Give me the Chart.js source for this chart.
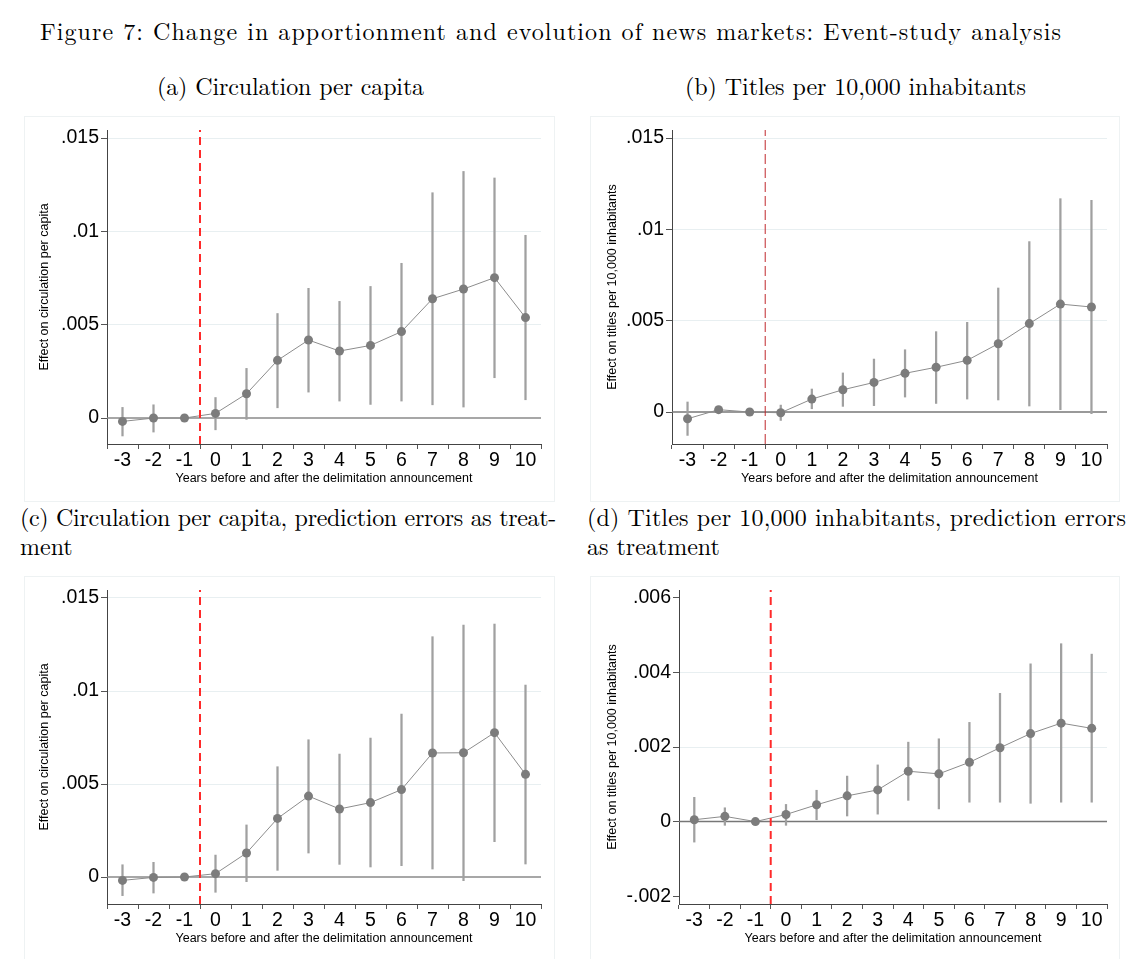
<!DOCTYPE html>
<html>
<head>
<meta charset="utf-8">
<script src="https://cdn.jsdelivr.net/npm/chart.js@4.4.1/dist/chart.umd.min.js"></script>
<style>
  body { margin: 0; background: #fff; width: 1144px; height: 959px; position: relative; overflow: hidden; }
  .cap { position: absolute; font-family: "Latin Modern Roman", "CMU Serif", "Liberation Serif", serif;
         font-size: 24px; line-height: 30px; color: #000; white-space: nowrap; }
  .frame { position: absolute; box-sizing: border-box; border: 1px solid #eef2f3; }
  canvas { position: absolute; }
</style>
</head>
<body>
<div class="cap" id="title" data-w="1022" style="left:40px; top:15px;">Figure 7: Change in apportionment and evolution of news markets: Event-study analysis</div>
<div class="cap" data-w="267" style="left:157px; top:70px;">(a) Circulation per capita</div>
<div class="cap" data-w="341" style="left:685px; top:70px;">(b) Titles per 10,000 inhabitants</div>
<div class="cap" data-j="536" style="left:20px; top:501px;">(c) Circulation per capita, prediction errors as treat-</div>
<div class="cap" style="left:20px; top:530px;">ment</div>
<div class="cap" data-j="539" style="left:587px; top:501px;">(d) Titles per 10,000 inhabitants, prediction errors</div>
<div class="cap" style="left:587px; top:530px;">as treatment</div>

<div class="frame" style="left:24px; top:116px; width:531px; height:386px;"></div>
<div class="frame" style="left:590px; top:116px; width:530px; height:386px;"></div>
<div class="frame" style="left:24px; top:576px; width:531px; height:390px;"></div>
<div class="frame" style="left:590px; top:576px; width:530px; height:390px;"></div>

<canvas id="pa" width="531" height="386" style="left:24px; top:116px;"></canvas>
<canvas id="pb" width="530" height="386" style="left:590px; top:116px;"></canvas>
<canvas id="pc" width="531" height="383" style="left:24px; top:576px;"></canvas>
<canvas id="pd" width="530" height="383" style="left:590px; top:576px;"></canvas>

<script>
const years = [-3, -2, -1, 0, 1, 2, 3, 4, 5, 6, 7, 8, 9, 10];
const announce = -0.5;
const xMin = -3.5, xMax = 10.5;
const xTitle = "Years before and after the delimitation announcement";

// (a) circulation per capita
const estA = [-0.00018, 0, 0, 0.00025, 0.0013, 0.00309, 0.00418, 0.00359, 0.00389, 0.00463, 0.00639, 0.00691, 0.00752, 0.00538];
const loA = [-0.00096, -0.00075, null, -0.00063, -0.00007, 0.00055, 0.00139, 0.00091, 0.00073, 0.00091, 0.00071, 0.00059, 0.00216, 0.00098];
const hiA = [0.00057, 0.00071, null, 0.0011, 0.00266, 0.0056, 0.00695, 0.00625, 0.00705, 0.00829, 0.01207, 0.01321, 0.01286, 0.00979];
const ticksA = [0, 0.005, 0.01, 0.015];
const labelsA = ["0", ".005", ".01", ".015"];

// (b) titles per 10,000 inhabitants
const estB = [-0.00037, 0.00013, 0, -0.00004, 0.00071, 0.00122, 0.00162, 0.00212, 0.00245, 0.00283, 0.00374, 0.00484, 0.00591, 0.00575];
const loB = [-0.00128, 0.00003, null, -0.00046, 0.00018, 0.00031, 0.00035, 0.00082, 0.00047, 0.00071, 0.00066, 0.00033, 0.00013, -0.00009];
const hiB = [0.00055, 0.00025, null, 0.00038, 0.00126, 0.00214, 0.0029, 0.00341, 0.0044, 0.00491, 0.00679, 0.00933, 0.01168, 0.01159];
const ticksB = [0, 0.005, 0.01, 0.015];
const labelsB = ["0", ".005", ".01", ".015"];

// (c) circulation per capita, prediction errors as treatment
const estC = [-0.00018, -0.00002, 0, 0.00018, 0.00129, 0.00315, 0.00435, 0.00366, 0.004, 0.0047, 0.00667, 0.00668, 0.00776, 0.00552];
const loC = [-0.001, -0.00086, null, -0.00082, -0.00025, 0.00036, 0.00129, 0.00068, 0.00054, 0.00061, 0.00043, -0.0002, 0.0019, 0.0007];
const hiC = [0.00066, 0.00079, null, 0.00118, 0.0028, 0.00593, 0.00738, 0.00661, 0.00747, 0.00876, 0.01292, 0.01355, 0.0136, 0.01032];
const ticksC = [0, 0.005, 0.01, 0.015];
const labelsC = ["0", ".005", ".01", ".015"];

// (d) titles per 10,000 inhabitants, prediction errors as treatment
const estD = [0.00005, 0.00014, 0, 0.00019, 0.00045, 0.00069, 0.00085, 0.00135, 0.00128, 0.00159, 0.00198, 0.00236, 0.00264, 0.0025];
const loD = [-0.00055, -0.0001, null, -0.0001, 0.00005, 0.00015, 0.0002, 0.00057, 0.00034, 0.00052, 0.00052, 0.00049, 0.00052, 0.00052];
const hiD = [0.00065, 0.00037, null, 0.00046, 0.00084, 0.00122, 0.00152, 0.00213, 0.00222, 0.00266, 0.00344, 0.00423, 0.00477, 0.00449];
const ticksD = [-0.002, 0, 0.002, 0.004, 0.006];
const labelsD = ["-.002", "0", ".002", ".004", ".006"];

const sans = "'Liberation Sans', Arial, sans-serif";

function eventPlot(id, p) {
  const ci = years
    .map((x, i) => ({ x, y: p.lo[i] === null ? null : [p.lo[i], p.hi[i]] }))
    .filter(d => d.y !== null);
  const pts = years.map((x, i) => ({ x, y: p.est[i] }));

  new Chart(document.getElementById(id), {
    type: "line",
    data: {
      datasets: [
        { data: [{ x: announce, y: p.yMin }, { x: announce, y: p.yMax }],
          borderColor: p.redColor, borderWidth: p.redWidth, borderDash: p.redDash,
          pointRadius: 0, order: 0 },
        { data: pts, borderColor: "#8c8c8c", borderWidth: 1,
          pointRadius: 4.5, pointBackgroundColor: "#7c7c7c", pointBorderWidth: 0, order: 1 },
        { type: "bar", data: ci, backgroundColor: "#a0a0a0", barThickness: 1.6, order: 2 },
        { data: [{ x: xMin, y: 0 }, { x: xMax, y: 0 }],
          borderColor: p.zeroColor, borderWidth: 1.5, pointRadius: 0, order: 3 }
      ]
    },
    options: {
      responsive: false,
      animation: false,
      events: [],
      layout: { padding: { left: 0, right: p.padR, top: 14, bottom: p.padB } },
      plugins: { legend: { display: false }, tooltip: { enabled: false } },
      scales: {
        x: {
          type: "linear", min: xMin, max: xMax, offset: false,
          afterBuildTicks: s => { s.ticks = years.map(v => ({ value: v })); },
          afterFit: s => { s.height = 50; },
          grid: { drawOnChartArea: false, tickLength: 5, tickColor: "#555" },
          border: { color: "#444", width: 1 },
          ticks: { font: { family: sans, size: 19.5 }, color: "#000", padding: 0, maxRotation: 0, autoSkip: false },
          title: { display: true, text: xTitle, color: "#000",
                   font: { family: sans, size: 12.5 }, padding: { top: 0, bottom: 7.5 } }
        },
        y: {
          type: "linear", min: p.yMin, max: p.yMax,
          afterBuildTicks: s => { s.ticks = p.ticks.map(v => ({ value: v })); },
          afterFit: s => { s.width = p.yW; },
          grid: {
            color: c => (c.tick && p.grid.includes(c.tick.value)) ? "#e8eff1" : "rgba(0,0,0,0)",
            tickLength: 6, tickColor: "#555"
          },
          border: { color: "#444", width: 1 },
          ticks: { font: { family: sans, size: 19.5 }, color: "#000", padding: 2,
                   callback: (v, i) => p.labels[i] },
          title: { display: true, text: p.yTitle, color: "#000",
                   font: { family: sans, size: 12.5 }, padding: { top: p.yTitlePad, bottom: 0 } }
        }
      }
    }
  });
}

const brightRed = { redColor: "#ff2a2a", redWidth: 2, redDash: [8, 5] };

eventPlot("pa", Object.assign({
  est: estA, lo: loA, hi: hiA, ticks: ticksA, labels: labelsA, grid: [0.005, 0.01, 0.015],
  yMin: -0.00139, yMax: 0.01543, yW: 83, padR: 14, padB: 8, yTitlePad: 13.5,
  yTitle: "Effect on circulation per capita", zeroColor: "#8a8a8a"
}, brightRed));

eventPlot("pb", {
  est: estB, lo: loB, hi: hiB, ticks: ticksB, labels: labelsB, grid: [0.005, 0.01, 0.015],
  yMin: -0.00175, yMax: 0.01544, yW: 82, padR: 13, padB: 8, yTitlePad: 15.5,
  yTitle: "Effect on titles per 10,000 inhabitants", zeroColor: "#777",
  redColor: "#c0282d", redWidth: 1, redDash: [10, 4]
});

eventPlot("pc", Object.assign({
  est: estC, lo: loC, hi: hiC, ticks: ticksC, labels: labelsC, grid: [0.005, 0.01, 0.015],
  yMin: -0.00145, yMax: 0.01543, yW: 83, padR: 14, padB: 5, yTitlePad: 13.5,
  yTitle: "Effect on circulation per capita", zeroColor: "#8a8a8a"
}, brightRed));

eventPlot("pd", Object.assign({
  est: estD, lo: loD, hi: hiD, ticks: ticksD, labels: labelsD, grid: [0.002, 0.004],
  yMin: -0.00221, yMax: 0.00621, yW: 89, padR: 13, padB: 5, yTitlePad: 15.5,
  yTitle: "Effect on titles per 10,000 inhabitants", zeroColor: "#777"
}, brightRed));

// stretch the serif captions toward the widths of the LaTeX original
let titleLs = 0;
document.querySelectorAll(".cap[data-w]").forEach(el => {
  const w = el.getBoundingClientRect().width;
  const ls = (+el.dataset.w - w) / el.textContent.length;
  el.style.letterSpacing = ls + "px";
  if (el.id === "title") titleLs = ls;
});
// justified first lines: same letter spacing, leftover goes into the word gaps
document.querySelectorAll(".cap[data-j]").forEach(el => {
  const text = el.textContent;
  const w = el.getBoundingClientRect().width;
  const spaces = text.split(" ").length - 1;
  let ls = titleLs;
  let ws = (+el.dataset.j - w - ls * text.length) / spaces;
  if (ws < 0) { ls = (+el.dataset.j - w) / text.length; ws = 0; }
  el.style.letterSpacing = ls + "px";
  el.style.wordSpacing = ws + "px";
});
</script>
</body>
</html>
